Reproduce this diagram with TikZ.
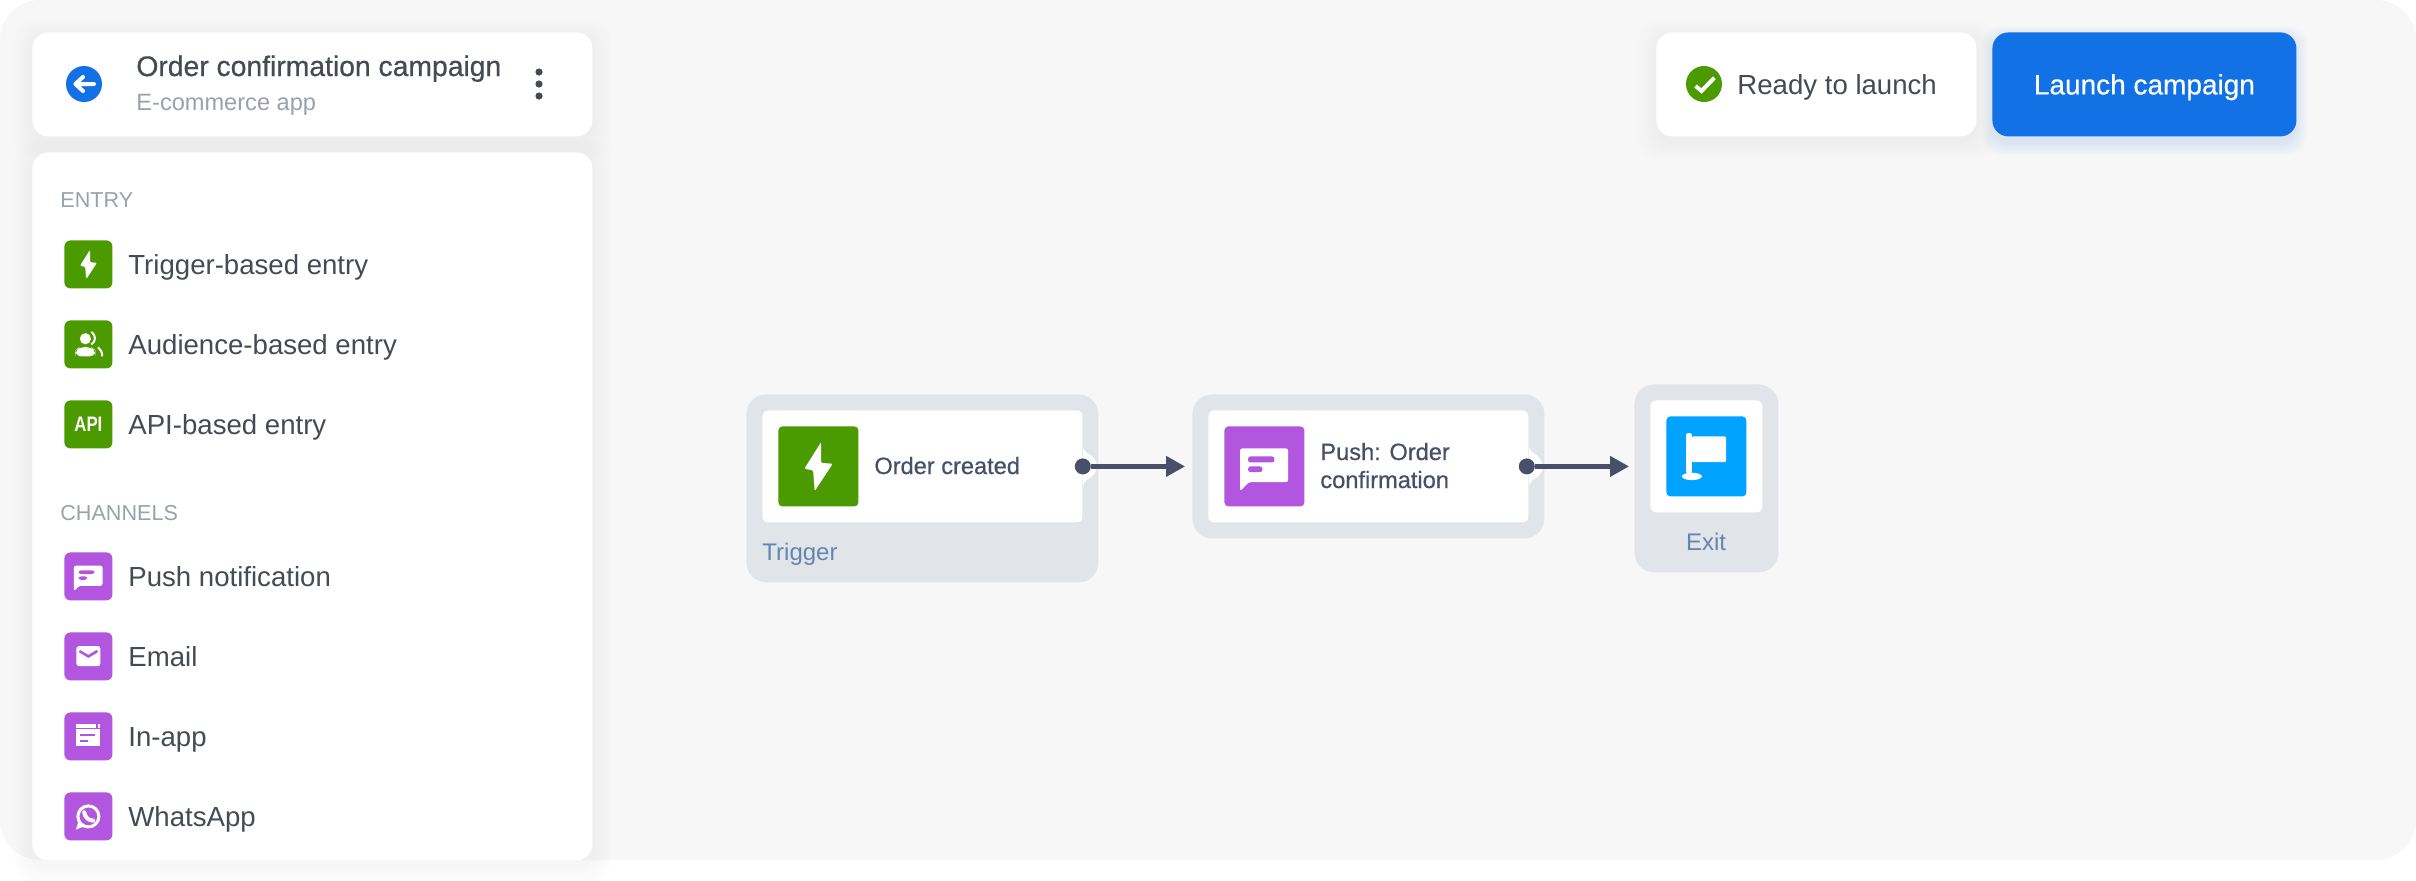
\documentclass[tikz,border=0pt]{standalone}
\usepackage{xcolor}
\usepackage{fontspec}
\setmainfont{Liberation Sans}
\newfontfamily\mediumfont[FakeBold=0.6]{Liberation Sans}
\usetikzlibrary{
  positioning,
  shapes,
  arrows.meta,
  backgrounds,
  calc
}
\definecolor{panelgray}{HTML}{F7F7F7}
\definecolor{boxgray}{HTML}{E1E4E9}
\definecolor{inkdark}{HTML}{454A54}
\definecolor{inkmuted}{HTML}{9AA1AC}
\definecolor{flowink}{HTML}{475068}
\definecolor{tagblue}{HTML}{6485AE}
\definecolor{actionblue}{HTML}{1271E5}
\definecolor{entrygreen}{HTML}{4A9A00}
\definecolor{channelpurple}{HTML}{B256E0}
\definecolor{exitblue}{HTML}{00A3FF}
\tikzset{
  card/.style={fill=white,rounded corners=8pt,anchor=north west,inner sep=0pt},
  iconbox/.style={rounded corners=3pt,minimum size=24pt,inner sep=0pt,anchor=north west},
  bigicon/.style={rounded corners=2pt,minimum size=40pt,inner sep=0pt,anchor=north west},
  outerbox/.style={fill=boxgray,rounded corners=10pt,inner sep=0pt,anchor=north west},
  innerbox/.style={fill=white,rounded corners=3pt,inner sep=0pt,anchor=north west},
  itemtext/.style={font=\fontsize{13.8}{16}\selectfont,text=inkdark,inner sep=0pt,anchor=base west},
  sectiontext/.style={font=\fontsize{10.8}{13}\selectfont,text=inkmuted,inner sep=0pt,anchor=base west},
  flowtext/.style={font=\mediumfont\fontsize{11.8}{14}\selectfont,text=flowink,inner sep=0pt,anchor=base west,align=left},
  tagtext/.style={font=\fontsize{12}{14}\selectfont,text=tagblue,inner sep=0pt,anchor=base west},
  portdot/.style={circle,fill=flowink,minimum size=8pt,inner sep=0pt},
  link/.style={draw=flowink,line width=2.1pt,shorten >=3.5pt,-{Triangle[length=9.5pt,width=10pt]}},
}
\newcommand{\boltglyph}{
  \fill[white,rounded corners=.6pt] (2.7,-24.3) -- (-14,2.3) -- (-5.3,4) -- (-3.7,24.7) -- (14.3,-2.7) -- (2.7,-3.5) -- cycle;
}
\newcommand{\audienceglyph}{
  \fill[white] (-5,-9.5) circle (9.3);
  \fill[white,rounded corners=3pt] (-21.7,20) -- (-21.7,10) -- (-15,4.5) -- (5,4.5) -- (11.7,10) -- (11.7,20) -- cycle;
  \draw[white,line width=1pt] (5,-21) .. controls (13,-15) and (13,-5) .. (5,0);
  \draw[white,line width=1pt] (16,5) .. controls (21,8) and (23,13) .. (23,20);
}
\newcommand{\apiglyph}{
  \node[text=white,inner sep=0pt] (apitag) at (0,0) {\fontsize{10.5}{12}\bfseries\scalebox{.8}[1]{API}};
}
\newcommand{\pushglyph}{
  \fill[white,rounded corners=1.2pt] (-24.4,-18) -- (23.8,-18) -- (23.8,15.7) -- (-15.6,15.7) -- (-24.4,25) -- cycle;
  \fill[channelpurple,rounded corners=1.2pt] (-16.3,-10) rectangle (10,-4);
  \fill[channelpurple,rounded corners=1.2pt] (-16.3,0) rectangle (-2,5.7);
}
\newcommand{\emailglyph}{
  \fill[white,rounded corners=1.2pt] (-20,-17) rectangle (20,16);
  \draw[channelpurple,line width=1.3pt] (-15,-9) -- (0,0) -- (15,-9);
}
\newcommand{\inappglyph}{
  \fill[white] (-20,-20) rectangle (13,-14.5);
  \fill[white] (15.5,-20) rectangle (20,-14.5);
  \fill[white] (-20,-12) rectangle (20,16);
  \fill[channelpurple] (-13.5,-4.5) rectangle (11.5,-.5);
  \fill[channelpurple] (-13.5,5.5) rectangle (0,10);
}
\newcommand{\whatsappglyph}{
  \draw[white,line width=1.5pt] (0,0) circle (17.5);
  \fill[white] (-21,22) -- (-17,10) -- (-8,17) -- cycle;
  \draw[white,line width=2pt,line cap=round] (-7,-7) .. controls (-6,1) and (0,7) .. (8,7);
}
\newcommand{\flagglyph}{
  \fill[white,rounded corners=1pt] (-20.4,-23.3) rectangle (-14.5,17);
  \fill[white,rounded corners=1pt] (-15,-20) rectangle (19.8,5.7);
  \fill[white] (-14.5,20) ellipse (10 and 3.7);
}
\begin{document}
\begin{tikzpicture}[x=.5pt,y=-.5pt]
  \useasboundingbox (0,0) rectangle (2416,880);
  \begin{scope}[on background layer]
    \fill[white] (0,0) rectangle (2416,880);
    \fill[panelgray,rounded corners=20pt] (0,0) rectangle (2416,860);
  \end{scope}

  % cards
  \node[card,minimum width=280pt,minimum height=52pt] (header) at (32,32) {};
  \node[card,minimum width=280pt,minimum height=354pt] (menu) at (32,152) {};
  \node[card,minimum width=160pt,minimum height=52pt] (status) at (1656,32) {};
  \node[card,fill=actionblue,minimum width=152pt,minimum height=52pt] (launch) at (1992,32) {};

  \begin{scope}[on background layer]
    \foreach \card in {header,menu,status}
      \foreach \g in {2,4,...,18}
        \fill[black,opacity=.0025,rounded corners=9pt]
          ([shift={(-\g,-\g+5)}]\card.north west) rectangle ([shift={(\g,\g+5)}]\card.south east);
    \foreach \g in {2,4,...,12}
      \fill[actionblue,opacity=.02,rounded corners=9pt]
        ([shift={(-\g+2,-\g+6)}]launch.north west) rectangle ([shift={(\g-2,\g+6)}]launch.south east);
  \end{scope}

  % header
  \node[circle,fill=actionblue,minimum size=18pt,inner sep=0pt] (back) at (84,84) {};
  \draw[white,line width=2pt,line cap=round,line join=round] ([xshift=5pt]back.center) -- ([xshift=-4.3pt]back.center)
    ([shift={(-1,-7)}]back.center) -- ([xshift=-4.3pt]back.center) -- ([shift={(-1,7)}]back.center);
  \node[itemtext,font=\mediumfont\fontsize{14.15}{16}\selectfont] (title) at (136,76) {Order confirmation campaign};
  \node[sectiontext,font=\fontsize{11.8}{14}\selectfont] (subtitle) at (136,110) {E-commerce app};
  \foreach \y in {72,84,96}
    \node[circle,fill=inkdark,minimum size=3.6pt,inner sep=0pt] (kebab\y) at (539,\y) {};

  % menu
  \node[sectiontext] (entryhead) at (60,207) {ENTRY};
  \node[sectiontext] (channelhead) at (60,520) {CHANNELS};
  \foreach \nm/\y/\col/\glyph/\txt in {
      trigger/240/entrygreen/\boltglyph/Trigger-based entry,
      audience/320/entrygreen/\audienceglyph/Audience-based entry,
      api/400/entrygreen/\apiglyph/API-based entry,
      push/552/channelpurple/\pushglyph/Push notification,
      email/632/channelpurple/\emailglyph/Email,
      inapp/712/channelpurple/\inappglyph/In-app,
      whatsapp/792/channelpurple/\whatsappglyph/WhatsApp}{
    \node[iconbox,fill=\col] (\nm) at (64,\y) {};
    \node[itemtext] (\nm text) at ([xshift=7.6pt,yshift=-5pt]\nm.east) {\txt};
    \begin{scope}[shift={(\nm.center)},scale=.6]
      \glyph
    \end{scope}
  }

  % top right
  \node[circle,fill=entrygreen,minimum size=18pt,inner sep=0pt] (readymark) at (1704,84) {};
  \draw[white,line width=2pt] ([shift={(-8.4,2)}]readymark.center) -- ([shift={(-2.5,7)}]readymark.center) -- ([shift={(10.4,-6.3)}]readymark.center);
  \node[itemtext] (readytext) at (1737,94) {Ready to launch};
  \node[font=\mediumfont\fontsize{14}{16}\selectfont,text=white,inner sep=0pt,anchor=base] (launchtext) at ([yshift=-5pt]launch.center) {Launch campaign};

  % flow
  \node[outerbox,minimum width=176pt,minimum height=94pt] (triggerbox) at (746,394) {};
  \node[innerbox,minimum width=160pt,minimum height=56pt] (triggerinner) at (762,410) {};
  \node[bigicon,fill=entrygreen] (triggericon) at (778,426) {};
  \begin{scope}[shift={(triggericon.center)}]
    \boltglyph
  \end{scope}
  \node[flowtext] (triggertext) at (874,474) {Order created};
  \node[tagtext] (triggertag) at (762,560) {Trigger};

  \node[outerbox,minimum width=176pt,minimum height=72pt] (pushbox) at (1192,394) {};
  \node[innerbox,minimum width=160pt,minimum height=56pt] (pushinner) at (1208,410) {};
  \node[bigicon,fill=channelpurple] (pushicon) at (1224,426) {};
  \begin{scope}[shift={(pushicon.center)}]
    \pushglyph
  \end{scope}
  \node[flowtext] (pushtext) at (1320,488) {Push: Order\\confirmation};

  \node[outerbox,minimum width=72pt,minimum height=94pt] (exitbox) at (1634,384) {};
  \node[innerbox,minimum width=56pt,minimum height=56pt] (exitinner) at (1650,400) {};
  \node[bigicon,fill=exitblue] (exiticon) at (1666,416) {};
  \begin{scope}[shift={(exiticon.center)}]
    \flagglyph
  \end{scope}
  \node[tagtext,anchor=base] (exittag) at (1706,550) {Exit};

  % ports and connectors
  \foreach \nm in {trigger,push}
    \fill[white,shift={(\nm inner.east)}] (0,-22) .. controls (0,-15) and (4,-14) .. (8,-11)
      .. controls (12,-8) and (14,-4) .. (14,0) .. controls (14,4) and (12,8) .. (8,11)
      .. controls (4,14) and (0,15) .. (0,22) -- cycle;
  \node[portdot] (triggerdot) at (triggerinner.east) {};
  \node[portdot] (pushdot) at ([xshift=-1pt]pushinner.east) {};
  \draw[link] (triggerdot) -- (triggerdot -| pushbox.west);
  \draw[link,shorten >=2.5pt] (pushdot) -- (pushdot -| exitbox.west);
\end{tikzpicture}
\end{document}
